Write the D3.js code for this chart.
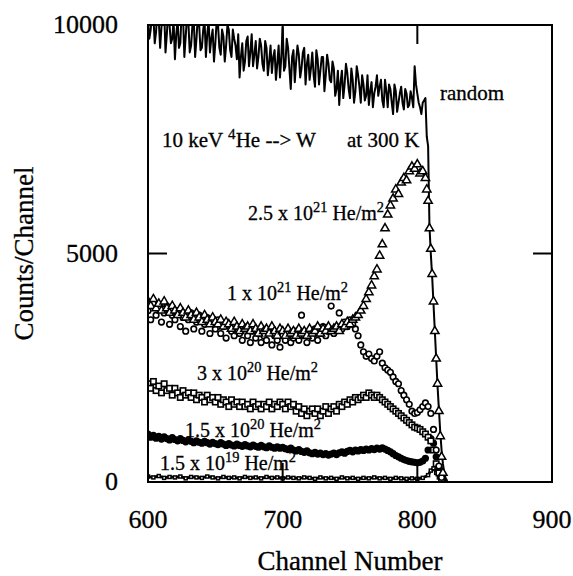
<!DOCTYPE html>
<html>
<head>
<meta charset="utf-8">
<script src="https://d3js.org/d3.v7.min.js"></script>
<style>
  body { margin: 0; background: #fff; }
  text { font-family: "Liberation Serif", "Times New Roman", serif; fill: #000; stroke: #000; stroke-width: 0.3; }
</style>
</head>
<body>
<svg width="573" height="576"></svg>
<script>
// 軸の目盛り
var xTicks = [600, 700, 800, 900];
var yTicks = [0, 5000, 10000];

// random スペクトル [channel, counts]
var randomData = [
  [600,10100],[601,9700],[602,9900],[603,10300],[604,10200],[605,9600],[606,9850],[607,10400],[608,10100],[609,9500],
  [610,9950],[611,10200],[612,10300],[613,9400],[614,9800],[615,10300],[616,10000],[617,9600],[618,9700],[619,10100],
  [620,9250],[621,9800],[622,10100],[623,9500],[624,9600],[625,10300],[626,10200],[627,9300],[628,9750],[629,10200],
  [630,10050],[631,9400],[632,9550],[633,10000],[634,10100],[635,9300],[636,9700],[637,10200],[638,10000],[639,9450],
  [640,9500],[641,9900],[642,10100],[643,9300],[644,9800],[645,10100],[646,9400],[647,9700],[648,9900],[649,9200],
  [650,9600],[651,10100],[652,10000],[653,9500],[654,9350],[655,9900],[656,9750],[657,9200],[658,9550],[659,10000],
  [660,9900],[661,9450],[662,9300],[663,9900],[664,9700],[665,9550],[666,9250],[667,9800],[668,8850],[669,9300],
  [670,9600],[671,9000],[672,9200],[673,9650],[674,9750],[675,9100],[676,9400],[677,9800],[678,9100],[679,9350],
  [680,9650],[681,9050],[682,9300],[683,9700],[684,9550],[685,9150],[686,9000],[687,9650],[688,9500],[689,8900],
  [690,9200],[691,9550],[692,8950],[693,9300],[694,9450],[695,8800],[696,9150],[697,9550],[698,8850],[699,9300],
  [700,9950],[701,9000],[702,9100],[703,9700],[704,9500],[705,9050],[706,8600],[707,9300],[708,9450],[709,8750],
  [710,9200],[711,9550],[712,9350],[713,8850],[714,9050],[715,9400],[716,9500],[717,8700],[718,9150],[719,9350],
  [720,8800],[721,9050],[722,9400],[723,8900],[724,8650],[725,9450],[726,9250],[727,8700],[728,9000],[729,9300],
  [730,9300],[731,8550],[732,8900],[733,9350],[734,9150],[735,8800],[736,8750],[737,9200],[738,9050],[739,8450],
  [740,8600],[741,9000],[742,8250],[743,8750],[744,9000],[745,8400],[746,8700],[747,9150],[748,8950],[749,8600],
  [750,8400],[751,9050],[752,8800],[753,8300],[754,8550],[755,9100],[756,8900],[757,8650],[758,8300],[759,8900],
  [760,8700],[761,8350],[762,8450],[763,8900],[764,8250],[765,8550],[766,8750],[767,8200],[768,8500],[769,8650],
  [770,8900],[771,8450],[772,8650],[773,8800],[774,8350],[775,8200],[776,8800],[777,8550],[778,8200],[779,8700],
  [780,8600],[781,8300],[782,8050],[783,8700],[784,8550],[785,8100],[786,8300],[787,8500],[788,8650],[789,8300],
  [790,8150],[791,8600],[792,8500],[793,8200],[794,8250],[795,8550],[796,8400],[797,8200],[798,9100],[799,8700],
  [800,8500],[801,8300],[802,8200],[803,8050],[804,8300],[805,8350],[806,8400],[807,7560],[808,7350],[809,5600],
  [810,5000],[811,4500],[812,3900],[813,3300],[814,2700],[815,2100],[816,1600],[817,1100],[818,700],[819,400],
  [820,200],[821,80],[822,0],[840,0]
];

// 2.5 x 10^21 He/m2 (三角)
var dose25e21 = [
  [600,3950],[602,3850],[604,4000],[606,3800],[608,3900],[610,3750],[612,3950],[614,3800],[616,3700],[618,3850],
  [620,3750],[622,3650],[624,3800],[626,3700],[628,3600],[630,3750],[632,3650],[634,3550],[636,3700],[638,3600],
  [640,3500],[642,3650],[644,3550],[646,3450],[648,3600],[650,3500],[652,3450],[654,3550],[656,3400],[658,3500],
  [660,3450],[662,3350],[664,3500],[666,3400],[668,3300],[670,3450],[672,3350],[674,3400],[676,3300],[678,3450],
  [680,3350],[682,3250],[684,3400],[686,3300],[688,3350],[690,3250],[692,3400],[694,3300],[696,3200],[698,3350],
  [700,3300],[702,3200],[704,3350],[706,3250],[708,3300],[710,3200],[712,3350],[714,3250],[716,3300],[718,3200],
  [720,3350],[722,3250],[724,3300],[726,3400],[728,3250],[730,3350],[732,3300],[734,3400],[736,3300],[738,3350],
  [740,3400],[742,3300],[744,3450],[746,3400],[748,3500],[750,3450],[752,3550],[754,3600],[756,3650],[758,3750],
  [760,3850],[762,4000],[764,4150],[766,4300],[768,4500],[770,4650],[772,4950],[774,5200],[776,5550],[778,5850],
  [780,6050],[782,6200],[784,6400],[786,6300],[788,6550],[790,6650],[792,6600],[794,6800],[796,6900],[798,6850],
  [800,6950],[802,6750],[804,6800],[806,6650],[807,6400],[808,6150],[809,5550],[810,5100],[811,4550],[812,3950],
  [813,3300],[814,2700],[815,2150],[816,1550],[817,1000],[818,550],[819,200]
];

// 1 x 10^21 He/m2 (丸)
var dose1e21 = [
  [600,3750],[602,3550],[604,3900],[606,3650],[608,3800],[610,3500],[612,3700],[614,3850],[616,3450],[618,3650],
  [620,3550],[622,3750],[624,3400],[626,3600],[628,3300],[630,3550],[632,3700],[634,3350],[636,3500],[638,3650],
  [640,3300],[642,3450],[644,3600],[646,3250],[648,3500],[650,3350],[652,3550],[654,3250],[656,3400],[658,3150],
  [660,3450],[662,3300],[664,3200],[666,3400],[668,3250],[670,3100],[672,3350],[674,3200],[676,3050],[678,3300],
  [680,3150],[682,3250],[684,3050],[686,3200],[688,3100],[690,3300],[692,3000],[694,3200],[696,3100],[698,2950],
  [700,3200],[702,3100],[704,3250],[706,3050],[708,3150],[710,3300],[712,3100],[714,3650],[716,3200],[718,3050],
  [720,3250],[722,3150],[724,3350],[726,3100],[728,3250],[730,3400],[732,3200],[734,3300],[736,3850],[738,3250],
  [740,3400],[742,3700],[744,3350],[746,3500],[748,3400],[750,3550],[752,3450],[754,3350],[756,3200],[758,3000],
  [760,2850],[762,2750],[764,2800],[766,2700],[768,2650],[770,2750],[772,2850],[774,2600],[776,2500],[778,2450],
  [780,2400],[782,2300],[784,2200],[786,2150],[788,2000],[790,1900],[792,1800],[794,1700],[796,1550],[798,1500],
  [800,1520],[802,1580],[804,1650],[806,1730],[808,1650],[810,1500],[812,1150],[814,700],[816,350],[818,100]
];

// 3 x 10^20 He/m2 (四角)
var dose3e20 = [
  [600,2150],[602,2050],[604,2200],[606,2000],[608,2100],[610,1950],[612,2150],[614,2000],[616,2050],[618,1900],
  [620,2050],[622,1950],[624,1850],[626,2000],[628,1900],[630,1950],[632,1850],[634,1950],[636,1800],[638,1900],
  [640,1850],[642,1750],[644,1900],[646,1800],[648,1850],[650,1750],[652,1850],[654,1700],[656,1800],[658,1750],
  [660,1650],[662,1800],[664,1700],[666,1750],[668,1650],[670,1750],[672,1650],[674,1700],[676,1600],[678,1750],
  [680,1650],[682,1700],[684,1600],[686,1700],[688,1650],[690,1750],[692,1600],[694,1700],[696,1650],[698,1750],
  [700,1700],[702,1600],[704,1750],[706,1650],[708,1700],[710,1550],[712,1650],[714,1500],[716,1600],[718,1450],
  [720,1550],[722,1600],[724,1500],[726,1600],[728,1450],[730,1550],[732,1650],[734,1500],[736,1600],[738,1650],
  [740,1550],[742,1700],[744,1650],[746,1750],[748,1700],[750,1800],[752,1750],[754,1850],[756,1800],[758,1850],
  [760,1900],[762,1850],[764,1950],[766,1900],[768,1850],[770,1900],[772,1850],[774,1800],[776,1750],[778,1700],
  [780,1650],[782,1600],[784,1550],[786,1500],[788,1450],[790,1400],[792,1350],[794,1300],[796,1250],[798,1200],
  [800,1180],[802,1150],[804,1100],[806,1050],[808,980],[810,900],[812,700],[814,400],[816,200],[818,50]
];

// 1.5 x 10^20 He/m2 (黒塗り)
var dose15e20 = [
  [600,1050],[602,980],[604,1020],[606,960],[608,1000],[610,940],[612,990],[614,950],[616,920],[618,970],
  [620,930],[622,900],[624,950],[626,910],[628,880],[630,920],[632,890],[634,860],[636,900],[638,870],
  [640,850],[642,890],[644,860],[646,830],[648,870],[650,840],[652,820],[654,860],[656,830],[658,800],
  [660,840],[662,810],[664,790],[666,830],[668,800],[670,780],[672,820],[674,790],[676,770],[678,810],
  [680,780],[682,760],[684,800],[686,770],[688,750],[690,790],[692,760],[694,740],[696,770],[698,740],
  [700,760],[702,730],[704,710],[706,740],[708,700],[710,680],[712,710],[714,670],[716,650],[718,680],
  [720,640],[722,620],[724,650],[726,610],[728,630],[730,600],[732,620],[734,590],[736,610],[738,630],
  [740,600],[742,640],[744,660],[746,630],[748,670],[750,690],[752,660],[754,700],[756,680],[758,710],
  [760,690],[762,720],[764,700],[766,730],[768,710],[770,740],[772,720],[774,750],[776,720],[778,690],
  [780,660],[782,620],[784,580],[786,550],[788,520],[790,490],[792,470],[794,450],[796,440],[798,430],
  [800,420],[802,430],[804,460],[806,520],[808,700],[810,950],[812,850],[814,550],[816,300],[818,100],[820,20]
];

// 1.5 x 10^19 He/m2
var dose15e19 = [
  [600,120],[604,100],[608,130],[612,90],[616,110],[620,100],[624,120],[628,80],[632,110],[636,100],
  [640,90],[644,120],[648,100],[652,80],[656,110],[660,90],[664,100],[668,80],[672,110],[676,90],
  [680,100],[684,80],[688,110],[692,90],[696,100],[700,80],[704,100],[708,90],[712,80],[716,100],
  [720,90],[724,70],[728,100],[732,80],[736,90],[740,70],[744,100],[748,80],[752,90],[756,70],
  [760,90],[764,80],[768,100],[772,80],[776,90],[780,70],[784,90],[788,80],[792,70],[796,80],
  [800,70],[804,90],[808,150],[810,250],[812,300],[814,200],[816,100],[818,30],[820,0]
];

var svg = d3.select("svg");
// プロット領域 (window.top と衝突しないよう名前に注意)
var plotLeft = 148, plotRight = 552, plotTop = 25, plotBottom = 482;

var x = d3.scaleLinear().domain([600, 900]).range([plotLeft, plotRight]);
var y = d3.scaleLinear().domain([0, 10000]).range([plotBottom, plotTop]);

// プロット領域でクリップ
svg.append("clipPath").attr("id", "plotclip")
  .append("rect")
    .attr("x", plotLeft).attr("y", plotTop)
    .attr("width", plotRight - plotLeft).attr("height", plotBottom - plotTop);

var plot = svg.append("g").attr("clip-path", "url(#plotclip)");

var line = d3.line()
  .x(function(d) { return x(d[0]); })
  .y(function(d) { return y(d[1]); });

plot.append("path")
  .datum(randomData)
  .attr("fill", "none")
  .attr("stroke", "#000")
  .attr("stroke-width", 2)
  .attr("stroke-linejoin", "round")
  .attr("d", line);

// 1.5e19 は細い帯
plot.append("path")
  .datum(dose15e19)
  .attr("fill", "none")
  .attr("stroke", "#000")
  .attr("stroke-width", 2.8)
  .attr("d", line);

plot.append("g").selectAll("rect")
  .data(dose15e19)
  .enter().append("rect")
    .attr("x", function(d) { return x(d[0]) - 1.5; })
    .attr("y", function(d) { return y(d[1]) - 1.5; })
    .attr("width", 3).attr("height", 3)
    .attr("fill", "#fff")
    .attr("stroke", "#000")
    .attr("stroke-width", 1.5);

// 1.5e20 黒塗り
plot.append("g").selectAll("circle")
  .data(dose15e20)
  .enter().append("circle")
    .attr("cx", function(d) { return x(d[0]); })
    .attr("cy", function(d) { return y(d[1]); })
    .attr("r", 3.6)
    .attr("fill", "#000");

// 3e20 四角
plot.append("g").selectAll("rect")
  .data(dose3e20)
  .enter().append("rect")
    .attr("x", function(d) { return x(d[0]) - 2.7; })
    .attr("y", function(d) { return y(d[1]) - 2.7; })
    .attr("width", 5.4).attr("height", 5.4)
    .attr("fill", "#fff")
    .attr("stroke", "#000")
    .attr("stroke-width", 1.6);

// 1e21 丸
plot.append("g").selectAll("circle")
  .data(dose1e21)
  .enter().append("circle")
    .attr("cx", function(d) { return x(d[0]); })
    .attr("cy", function(d) { return y(d[1]); })
    .attr("r", 2.8)
    .attr("fill", "#fff")
    .attr("stroke", "#000")
    .attr("stroke-width", 1.6);

// 2.5e21 三角
var tri = d3.symbol().type(d3.symbolTriangle).size(30);
plot.append("g").selectAll("path")
  .data(dose25e21)
  .enter().append("path")
    .attr("transform", function(d) { return "translate(" + x(d[0]) + "," + y(d[1]) + ")"; })
    .attr("d", tri)
    .attr("fill", "#fff")
    .attr("stroke", "#000")
    .attr("stroke-width", 1.5);

// 枠と内向きの目盛り
svg.append("rect")
  .attr("x", plotLeft).attr("y", plotTop)
  .attr("width", plotRight - plotLeft).attr("height", plotBottom - plotTop)
  .attr("fill", "none")
  .attr("stroke", "#000")
  .attr("stroke-width", 2);

var tickLen = 19;
xTicks.slice(1, 3).forEach(function(t) {
  svg.append("line").attr("x1", x(t)).attr("x2", x(t)).attr("y1", plotTop).attr("y2", plotTop + tickLen)
    .attr("stroke", "#000").attr("stroke-width", 2);
  svg.append("line").attr("x1", x(t)).attr("x2", x(t)).attr("y1", plotBottom).attr("y2", plotBottom - tickLen)
    .attr("stroke", "#000").attr("stroke-width", 2);
});
yTicks.slice(1, 2).forEach(function(t) {
  svg.append("line").attr("x1", plotLeft).attr("x2", plotLeft + tickLen).attr("y1", y(t)).attr("y2", y(t))
    .attr("stroke", "#000").attr("stroke-width", 2);
  svg.append("line").attr("x1", plotRight).attr("x2", plotRight - tickLen).attr("y1", y(t)).attr("y2", y(t))
    .attr("stroke", "#000").attr("stroke-width", 2);
});

// 目盛りラベル
svg.append("g").selectAll("text")
  .data(xTicks)
  .enter().append("text")
    .attr("x", function(d) { return x(d); })
    .attr("y", 528)
    .attr("text-anchor", "middle")
    .attr("font-size", 26)
    .text(function(d) { return d; });

svg.append("g").selectAll("text")
  .data(yTicks)
  .enter().append("text")
    .attr("x", 118)
    .attr("y", function(d) { return y(d) + 8; })
    .attr("text-anchor", "end")
    .attr("font-size", 26)
    .text(function(d) { return d; });

// 軸タイトル
svg.append("text")
  .attr("x", (plotLeft + plotRight) / 2)
  .attr("y", 570)
  .attr("text-anchor", "middle")
  .attr("font-size", 27)
  .text("Channel Number");

svg.append("text")
  .attr("transform", "translate(33," + ((plotTop + plotBottom) / 2) + ") rotate(-90)")
  .attr("text-anchor", "middle")
  .attr("font-size", 27)
  .text("Counts/Channel");

// 注釈
function label(px, py, size, parts) {
  var t = svg.append("text").attr("x", px).attr("y", py).attr("font-size", size);
  parts.forEach(function(p) {
    var s = t.append("tspan").text(p[0]);
    if (p[1] === "sup") s.attr("font-size", size * 0.72).attr("dy", -8);
    if (p[1] === "down") s.attr("dy", 8);
    if (p[2] !== undefined) s.attr("x", p[2]);
  });
  return t;
}

label(440, 100, 21, [["random"]]);
label(162, 147, 21, [["10 keV "], ["4", "sup"], ["He --> W", "down"], ["at 300 K", null, 347]]);
label(248, 220, 20, [["2.5 x 10"], ["21", "sup"], [" He/m", "down"], ["2", "sup"]]);
label(227, 300, 20, [["1 x 10"], ["21", "sup"], [" He/m", "down"], ["2", "sup"]]);
label(197, 380, 20, [["3 x 10"], ["20", "sup"], [" He/m", "down"], ["2", "sup"]]);
label(185, 437, 20, [["1.5 x 10"], ["20", "sup"], [" He/m", "down"], ["2", "sup"]]);
label(160, 470, 20, [["1.5 x 10"], ["19", "sup"], [" He/m", "down"], ["2", "sup"]]);
</script>
</body>
</html>
